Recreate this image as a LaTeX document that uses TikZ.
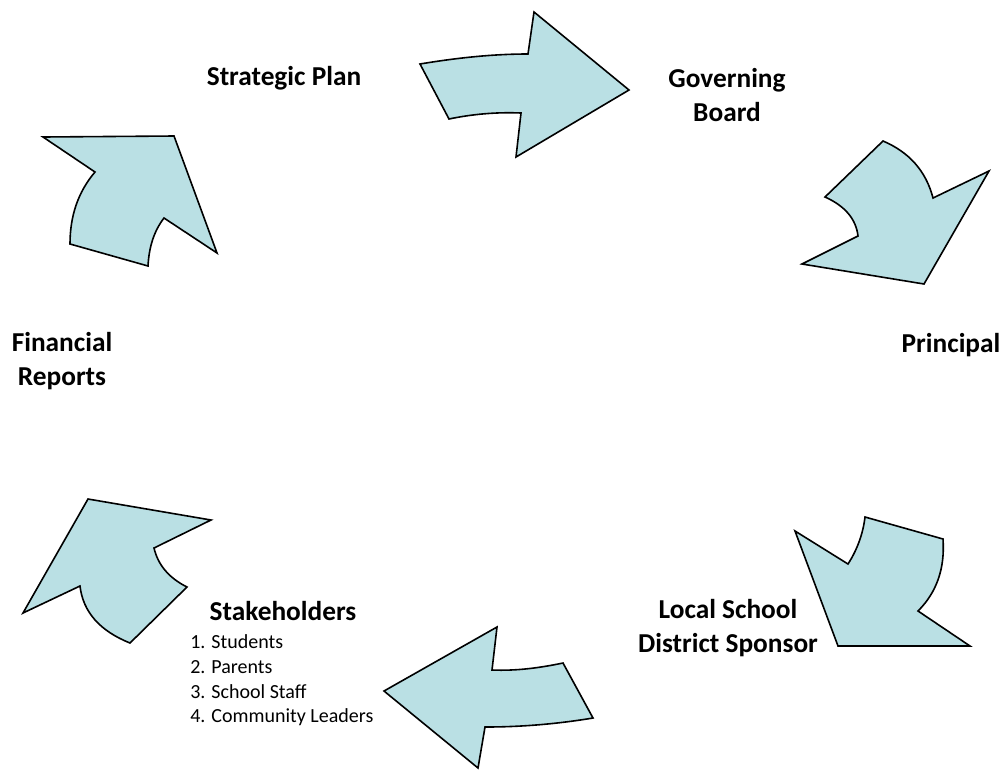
\documentclass[tikz,border=0pt]{standalone}
\usepackage{fontspec}
\setmainfont{Carlito}
\begin{document}
\begin{tikzpicture}[x=0.75pt,y=-0.75pt,
  flowarrow/.style={draw=black,line width=1.2pt,line join=miter,fill=arrowfill},
  heading/.style={font=\bfseries\fontsize{20.5}{25}\selectfont,inner sep=0pt,align=center,anchor=base},
  listitem/.style={font=\fontsize{15}{18.3}\selectfont,inner sep=0pt,anchor=base west}]
\definecolor{arrowfill}{RGB}{186,224,228}
\useasboundingbox (0,0) rectangle (1005,772);

% cycle labels (base anchor sits on the last line of each label)
\node[heading] (strategic) at (284,85) {Strategic Plan};
\node[heading] (governing) at (727,121) {Governing\\Board};
\node[heading] (principal) at (951,352) {Principal};
\node[heading] (financial) at (62,385) {Financial\\Reports};
\node[heading] (sponsor) at (728,652) {Local School\\District Sponsor};
\node[heading] (stakeholders) at (283,620) {Stakeholders};
\node[listitem] (item1) at (190,648) {1. Students};
\node[listitem] (item2) at (190,673) {2. Parents};
\node[listitem] (item3) at (190,698) {3. School Staff};
\node[listitem] (item4) at (190,722) {4. Community Leaders};

% curved block arrows between the stages
\path[flowarrow] (420,64) .. controls (456,58) and (492,54) .. (528,54) -- (534,12) -- (629,90)
  -- (516,157) -- (521,113) .. controls (497,112) and (473,114) .. (449,119) -- cycle;
\path[flowarrow] (883,141) .. controls (909,152) and (926,171) .. (933,198) -- (989,171) -- (924,284)
  -- (802,264) -- (858,236) .. controls (856,219) and (845,206) .. (825,197) -- cycle;
\path[flowarrow] (865,517) -- (943,539) .. controls (945,568) and (937,592) .. (918,611) -- (970,646)
  -- (838,646) -- (795,531) -- (848,564) .. controls (857,550) and (863,534) .. (865,517) -- cycle;
\path[flowarrow] (563,663) -- (593,718) .. controls (557,724) and (521,727) .. (485,727) -- (478,768)
  -- (384,691) -- (497,627) -- (492,670) .. controls (516,671) and (539,668) .. (563,663) -- cycle;
\path[flowarrow] (88,499) -- (211,520) -- (154,548) .. controls (158,565) and (169,578) .. (187,587)
  -- (130,643) .. controls (100,631) and (83,612) .. (80,586) -- (23,613) -- cycle;
\path[flowarrow] (43,137) -- (174,136) -- (217,253) -- (164,218) .. controls (154,231) and (149,247) .. (148,266)
  -- (70,244) .. controls (70,216) and (78,192) .. (95,172) -- cycle;
\end{tikzpicture}
\end{document}
